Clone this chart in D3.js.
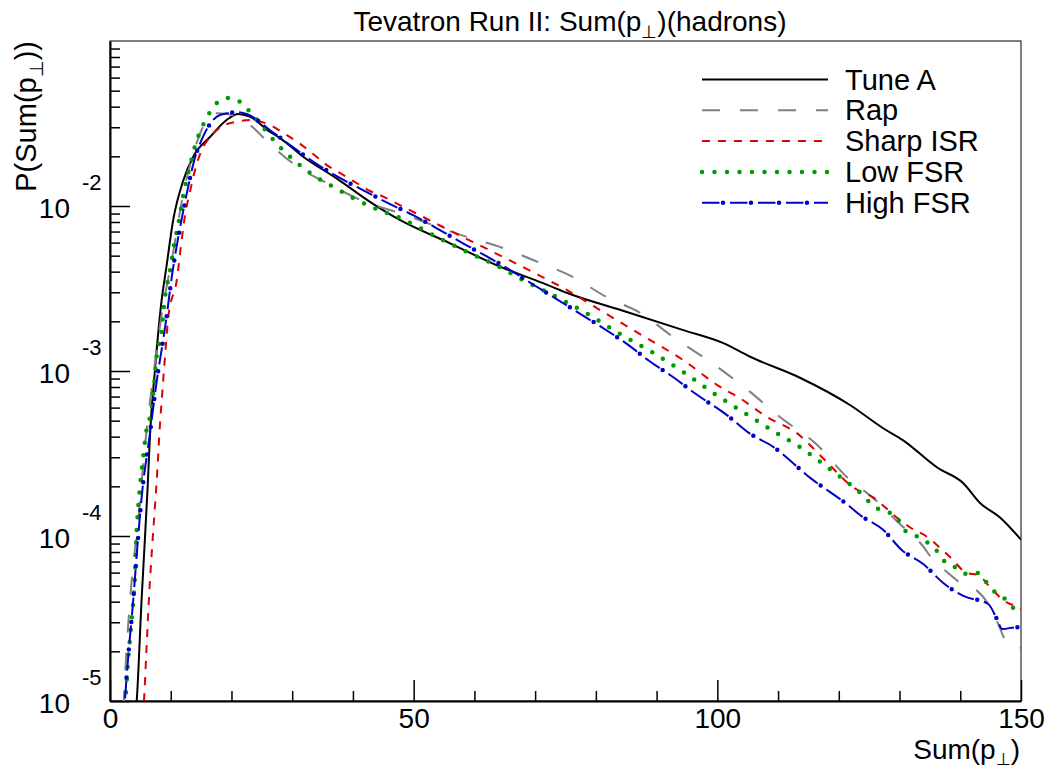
<!DOCTYPE html>
<html>
<head>
<meta charset="utf-8">
<script src="https://cdn.jsdelivr.net/npm/d3@7"></script>
<style>
  body { margin: 0; background: #fff; }
  text { font-family: "Liberation Sans", Arial, sans-serif; fill: #000; }
</style>
</head>
<body>
<div id="chart"></div>
<script>
// values: [Sum(pT), P]
const tuneA = [[4.2,8e-6],[4.4,1.0e-5],[5.2,4.1e-5],[6.2,1.98e-4],[6.6,4.2e-4],[7.4,1.01e-3],[8.4,2.5e-3],[9.3,4.3e-3],
  [10.4,8.2e-3],[12.1,1.44e-2],[13.7,1.99e-2],[16.5,2.63e-2],[19.2,3.32e-2],[21.1,3.61e-2],[23.0,3.48e-2],[26.3,2.82e-2],
  [28.0,2.58e-2],[31.8,1.99e-2],[37.3,1.47e-2],[42.8,1.06e-2],[47.8,8.2e-3],[56,5.94e-3],[64.2,4.29e-3],[71.3,3.41e-3],
  [75.3,2.97e-3],[85.1,2.28e-3],[94.4,1.77e-3],[100.9,1.48e-3],[105.4,1.22e-3],[113.6,9.1e-4],[121.9,6.2e-4],[127.3,4.5e-4],
  [130.6,3.8e-4],[136.2,2.6e-4],[140.5,2.09e-4],[143.3,1.58e-4],[146.5,1.30e-4],[150,9.5e-5]];

const rap = [[2.2,9e-6],[2.5,1.48e-5],[3.3,4.1e-5],[4.7,1.31e-4],[5.8,3.66e-4],[7.1,9.2e-4],[8.2,1.85e-3],[10.5,5.5e-3],
  [12.0,1.15e-2],[13.7,2.07e-2],[15.9,3.3e-2],[17.5,3.65e-2],[19.5,3.6e-2],[21.4,3.4e-2],[23.5,3.0e-2],[25.7,2.5e-2],
  [30.5,1.77e-2],[36.0,1.36e-2],[41.2,1.09e-2],[47.5,9.1e-3],[58.8,6.49e-3],[64.2,5.65e-3],[70.8,4.52e-3],[76.2,3.72e-3],
  [81.8,2.8e-3],[87.3,2.25e-3],[92.7,1.61e-3],[100,1.06e-3],[105.4,7.47e-4],[110.3,5.26e-4],[116.1,3.66e-4],[121.9,2.18e-4],
  [124.0,1.9e-4],[127.3,1.5e-4],[128.9,1.3e-4],[131.7,1.04e-4],[133.4,9.1e-5],[135.5,7.2e-5],[137.8,6.05e-5],[140.5,5.05e-5],
  [142.8,4.65e-5],[144.9,3.72e-5],[146.1,3.01e-5],[147.7,2.25e-5],[149.3,2.09e-5],[150,2.1e-5]];

const sharpISR = [[5.4,8e-6],[5.6,1.01e-5],[6.0,2.04e-5],[6.4,4.1e-5],[6.9,8.2e-5],[7.4,1.51e-4],[7.8,2.51e-4],[8.2,4.6e-4],
  [8.6,7.33e-4],[9.1,1.28e-3],[9.6,2.13e-3],[11.0,3.56e-3],[11.8,6.22e-3],[12.4,9.03e-3],[13.1,1.19e-2],[14.0,1.65e-2],
  [15.1,2.18e-2],[16.5,2.63e-2],[18.4,3.03e-2],[20.9,3.24e-2],[23.0,3.32e-2],[26.3,3.1e-2],[28.8,2.73e-2],[31.3,2.38e-2],
  [33.5,2.06e-2],[35.7,1.77e-2],[37.9,1.58e-2],[40.3,1.40e-2],[42.5,1.25e-2],[45.0,1.14e-2],[47.8,1.01e-2],[54.8,7.46e-3],
  [61.4,5.65e-3],[69.6,3.98e-3],[75.2,3.1e-3],[80.7,2.34e-3],[88.4,1.58e-3],[94.3,1.17e-3],[100,8.22e-4],[103.7,6.85e-4],
  [108.2,5.26e-4],[113.1,4.2e-4],[117.7,2.89e-4],[122.3,1.98e-4],[125.6,1.72e-4],[129.6,1.29e-4],[131.7,1.13e-4],[134.5,9.9e-5],
  [136.7,8.45e-5],[138.3,7.47e-5],[141.1,5.97e-5],[142.9,5.8e-5],[144.9,4.91e-5],[147.0,4.1e-5],[149.3,3.72e-5],[150,3.6e-5]];

const lowFSR = [[2.3,8e-6],[2.5,9.6e-6],[2.9,1.61e-5],[3.6,3.23e-5],[4.1,5.65e-5],[4.4,1.09e-4],[4.7,1.58e-4],[5.5,3.1e-4],
  [6.0,4.38e-4],[6.9,6.05e-4],[7.3,8.6e-4],[7.7,1.25e-3],[8.5,1.72e-3],[8.9,2.51e-3],[9.9,4.09e-3],[10.6,5.89e-3],
  [11.4,8.34e-3],[12.1,1.18e-2],[13.0,1.65e-2],[14.0,2.31e-2],[15.5,3.2e-2],[16.5,3.73e-2],[17.8,4.27e-2],[19.7,4.52e-2],
  [21.6,4.23e-2],[23.0,3.73e-2],[25.7,2.85e-2],[27.0,2.49e-2],[29.9,1.95e-2],[33.1,1.57e-2],[36.7,1.31e-2],[40.2,1.11e-2],
  [44.0,9.55e-3],[47.8,8.45e-3],[53.2,6.67e-3],[58.8,5.26e-3],[64.2,4.26e-3],[68.0,3.56e-3],[73.6,2.8e-3],[79.0,2.18e-3],
  [84.3,1.65e-3],[89.4,1.29e-3],[94.7,9.7e-4],[99.3,7.37e-4],[104.2,5.65e-4],[109.8,4.2e-4],[113.6,3.46e-4],[118.5,2.55e-4],
  [123.0,1.90e-4],[126.0,1.50e-4],[129.6,1.30e-4],[130.4,1.12e-4],[133.7,9.6e-5],[136.3,8.0e-5],[137.5,6.95e-5],[139.5,6.4e-5],
  [141.1,5.89e-5],[142.9,5.97e-5],[144.4,5.19e-5],[145.7,4.58e-5],[147.4,4.15e-5],[148.9,3.61e-5],[150,3.4e-5]];

const highFSR = [[2.2,7e-6],[2.5,1.06e-5],[3.0,1.85e-5],[3.8,3.98e-5],[4.5,8.57e-5],[5.3,1.85e-4],[6.5,3.98e-4],[7.7,8.7e-4],
  [9.1,1.87e-3],[10.3,4.0e-3],[11.9,8.7e-3],[12.8,1.27e-2],[13.8,1.85e-2],[15.4,2.67e-2],[18.2,3.57e-2],[20.9,3.70e-2],
  [22.6,3.6e-2],[26.3,2.89e-2],[30.0,2.29e-2],[33.8,1.82e-2],[37.7,1.49e-2],[41.8,1.24e-2],[45.8,1.04e-2],[49.9,8.8e-3],
  [53.8,7.33e-3],[57.9,6.0e-3],[61.9,4.98e-3],[65.9,4.09e-3],[69.8,3.32e-3],[73.6,2.72e-3],[77.5,2.21e-3],[81.2,1.82e-3],
  [85.1,1.46e-3],[88.8,1.15e-3],[92.7,9.2e-4],[96.3,7.33e-4],[101.8,5.33e-4],[105.3,4.19e-4],[109.2,3.47e-4],[115.3,2.25e-4],
  [121.9,1.50e-4],[123.5,1.34e-4],[127.3,1.09e-4],[130.4,8.2e-5],[133.9,6.76e-5],[137.2,5.19e-5],[140.5,4.33e-5],[144.6,3.87e-5],
  [146.1,3.1e-5],[146.9,2.73e-5],[149.3,2.8e-5],[150,2.8e-5]];

const seriesNames = ["Tune A", "Rap", "Sharp ISR", "Low FSR", "High FSR"];
const xMajorTicks = [0, 50, 100, 150];
const xMinorTicks = [10, 20, 30, 40, 60, 70, 80, 90, 110, 120, 130, 140];
const yDecades = [-5, -4, -3, -2];

const W = 1048, H = 768;
const frame = {left: 110, right: 1021, top: 41, bottom: 701};

const svg = d3.select("#chart").append("svg")
    .attr("width", W)
    .attr("height", H);

const x = d3.scaleLinear().domain([0, 150]).range([frame.left, frame.right]);
const y = d3.scaleLog().domain([1e-5, 0.1]).range([frame.bottom, frame.top]);

svg.append("defs").append("clipPath").attr("id", "plotclip")
  .append("rect")
    .attr("x", frame.left).attr("y", frame.top)
    .attr("width", frame.right - frame.left).attr("height", frame.bottom - frame.top);

// frame top / right
svg.append("rect")
    .attr("x", frame.left).attr("y", frame.top)
    .attr("width", frame.right - frame.left).attr("height", frame.bottom - frame.top)
    .attr("fill", "none").attr("stroke", "#000").attr("stroke-width", 1);

// x axis: major + minor ticks pointing inward
svg.append("g")
    .attr("transform", `translate(0,${frame.bottom})`)
    .call(d3.axisBottom(x).tickValues(xMajorTicks).tickSizeInner(-21).tickSizeOuter(0).tickPadding(7).tickFormat(d3.format("d")))
    .call(g => g.select(".domain").attr("stroke-width", 2))
    .call(g => g.selectAll(".tick line").attr("stroke-width", 1.5))
    .call(g => g.selectAll(".tick text").attr("font-size", 28).attr("font-family", "Liberation Sans, Arial, sans-serif").attr("dy", "0.71em"));

svg.append("g")
    .attr("transform", `translate(0,${frame.bottom})`)
    .call(d3.axisBottom(x).tickValues(xMinorTicks).tickSizeInner(-10).tickSizeOuter(0).tickFormat(""))
    .call(g => g.select(".domain").remove())
    .call(g => g.selectAll(".tick line").attr("stroke-width", 1.5));

// y axis, log
const yMinor = [];
yDecades.forEach(d => {
    for (let m = 2; m <= 9; m++) yMinor.push(m * Math.pow(10, d));
});
const yMajor = yDecades.map(d => Math.pow(10, d));

svg.append("g")
    .attr("transform", `translate(${frame.left},0)`)
    .call(d3.axisLeft(y).tickValues(yMajor).tickSizeInner(-20).tickSizeOuter(0).tickFormat(""))
    .call(g => g.select(".domain").attr("stroke-width", 2))
    .call(g => g.selectAll(".tick line").attr("stroke-width", 1.5));

svg.append("g")
    .attr("transform", `translate(${frame.left},0)`)
    .call(d3.axisLeft(y).tickValues(yMinor).tickSizeInner(-10).tickSizeOuter(0).tickFormat(""))
    .call(g => g.select(".domain").remove())
    .call(g => g.selectAll(".tick line").attr("stroke-width", 1.5));

// 10^n labels
yDecades.forEach(d => {
    const yy = y(Math.pow(10, d));
    svg.append("text")
        .attr("x", 70).attr("y", yy + 12)
        .attr("text-anchor", "end")
        .attr("font-size", 28)
        .text("10");
    svg.append("text")
        .attr("x", 82).attr("y", yy - 16)
        .attr("font-size", 22)
        .text(String(d));
});

// title
const title = svg.append("text")
    .attr("x", 570).attr("y", 31)
    .attr("text-anchor", "middle")
    .attr("font-size", 28);
title.append("tspan").text("Tevatron Run II: Sum(p");
title.append("tspan").attr("font-size", 18).attr("dy", 7).text("\u22A5");
title.append("tspan").attr("dy", -7).text(")(hadrons)");

// x title
const xt = svg.append("text")
    .attr("x", 1020).attr("y", 759)
    .attr("text-anchor", "end")
    .attr("font-size", 28);
xt.append("tspan").text("Sum(p");
xt.append("tspan").attr("font-size", 17).attr("dy", 6).text("\u22A5");
xt.append("tspan").attr("dy", -6).text(")");

// y title
const yt = svg.append("text")
    .attr("transform", `translate(36,${frame.top}) rotate(-90)`)
    .attr("text-anchor", "end")
    .attr("font-size", 29);
yt.append("tspan").text("P(Sum(p");
yt.append("tspan").attr("font-size", 19).attr("dy", 7).text("\u22A5");
yt.append("tspan").attr("dy", -7).text("))");

// curves
const line = d3.line()
    .x(d => x(d[0]))
    .y(d => y(d[1]))
    .curve(d3.curveMonotoneX);

const styles = [
    {data: tuneA, color: "#000000", width: 2, dash: null},
    {data: rap, color: "#808080", width: 2, dash: "18,20"},
    {data: sharpISR, color: "#e00000", width: 2, dash: "8,8"},
    {data: lowFSR, color: "#009900", width: 4.5, dash: "0,12.5", cap: "round"},
    {data: highFSR, color: "#0000c8", width: 2, dash: "17.5,10.5", dots: true}
];

const plot = svg.append("g").attr("clip-path", "url(#plotclip)");

styles.forEach(s => {
    plot.append("path")
        .datum(s.data)
        .attr("d", line)
        .attr("fill", "none")
        .attr("stroke", s.color)
        .attr("stroke-width", s.width)
        .attr("stroke-linecap", s.cap || "butt")
        .attr("stroke-dasharray", s.dash);
    if (s.dots) {
        plot.append("path")
            .datum(s.data)
            .attr("d", line)
            .attr("fill", "none")
            .attr("stroke", s.color)
            .attr("stroke-width", 4.5)
            .attr("stroke-linecap", "round")
            .attr("stroke-dasharray", "0,28")
            .attr("stroke-dashoffset", 7);
    }
});

// legend
const legend = svg.append("g");
styles.forEach((s, i) => {
    const ly = 79.5 + i * 30.8;
    legend.append("line")
        .attr("x1", 702).attr("x2", 828)
        .attr("y1", ly).attr("y2", ly)
        .attr("stroke", s.color)
        .attr("stroke-width", s.width)
        .attr("stroke-linecap", s.cap || "butt")
        .attr("stroke-dasharray", s.dash);
    if (s.dots) {
        legend.append("line")
            .attr("x1", 702).attr("x2", 828)
            .attr("y1", ly).attr("y2", ly)
            .attr("stroke", s.color)
            .attr("stroke-width", 4.5)
            .attr("stroke-linecap", "round")
            .attr("stroke-dasharray", "0,28")
            .attr("stroke-dashoffset", 7);
    }
    legend.append("text")
        .attr("x", 845).attr("y", ly + 10)
        .attr("font-size", 29)
        .text(seriesNames[i]);
});
</script>
</body>
</html>
